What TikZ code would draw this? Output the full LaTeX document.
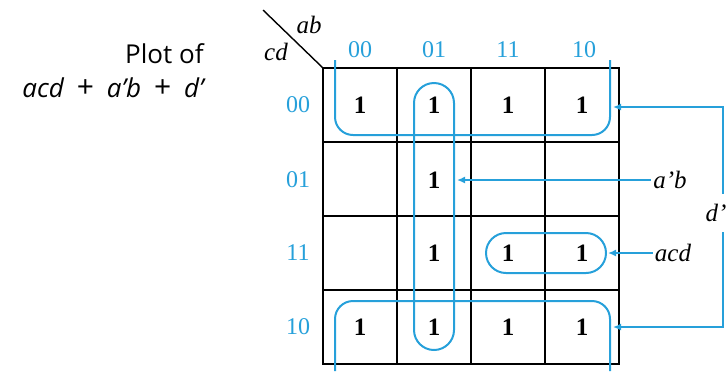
\documentclass[tikz,border=0pt]{standalone}
\usepackage{fontspec}
\setmainfont{Liberation Serif}
\newfontfamily\plotfont{Open Sans}
\usetikzlibrary{arrows.meta}
\definecolor{kblue}{RGB}{38,160,218}
\newcommand{\bigplus}{\hspace{0.5em}{\upshape\fontsize{15}{15}\selectfont+}\hspace{0.5em}}

\begin{document}
\begin{tikzpicture}[x=0.5pt,y=-0.5pt]
\tikzstyle{one}=[font=\fontsize{12.5}{14}\selectfont\bfseries]
\tikzstyle{code}=[text=kblue,font=\fontsize{12}{14}\selectfont]
\tikzstyle{var}=[font=\fontsize{12.5}{14}\selectfont\itshape,inner sep=1pt]
\tikzstyle{plot}=[font=\plotfont\fontsize{13}{15}\selectfont,anchor=base east,inner sep=0pt]
\tikzstyle{loopy}=[draw=kblue,line width=1pt]
\tikzstyle{pointer}=[kblue,line width=0.9pt,-{Latex[length=4pt,width=3.5pt]}]
\useasboundingbox (0,0) rectangle (728,371);
\node [plot] (title) at (204,63) {Plot of};
\node [plot] (expr) at (204,97) {\itshape acd\bigplus a’b\bigplus d’};
\draw [line width=0.7pt] (323,68) rectangle (619,364);
\draw [line width=0.7pt] (397,68) -- (397,364) (471,68) -- (471,364) (545,68) -- (545,364);
\draw [line width=0.7pt] (323,142) -- (619,142) (323,290) -- (619,290);
\draw [line width=1.3pt] (323,216) -- (619,216);
\draw [line width=0.7pt] (263,10) -- (323,68);
\node [var] (ab) at (309,25) {ab};
\node [var] (cd) at (276,52) {cd};
\node [code] (col00) at (360,50) {00};
\node [code] (col01) at (434,50) {01};
\node [code] (col11) at (508,50) {11};
\node [code] (col10) at (584,50) {10};
\node [code] (row00) at (298,105) {00};
\node [code] (row01) at (298,180) {01};
\node [code] (row11) at (298,253) {11};
\node [code] (row10) at (298,327) {10};
\node [one] (m0) at (360,105) {1};
\node [one] (m4) at (434,105) {1};
\node [one] (m12) at (508,105) {1};
\node [one] (m8) at (582,105) {1};
\node [one] (m5) at (434,180) {1};
\node [one] (m7) at (434,253) {1};
\node [one] (m15) at (508,253) {1};
\node [one] (m11) at (582,253) {1};
\node [one] (m2) at (360,327) {1};
\node [one] (m6) at (434,327) {1};
\node [one] (m14) at (508,327) {1};
\node [one] (m10) at (582,327) {1};
\draw [loopy,rounded corners=9pt] (335,60) -- (335,135) -- (610,135) -- (610,60);
\draw [loopy,rounded corners=9pt] (335,371) -- (335,301) -- (610,301) -- (610,371);
\draw [loopy,rounded corners=10pt] (414,83) rectangle (454,350);
\draw [loopy,rounded corners=10pt] (486,233) rectangle (606,273);
\node [var] (aprimeb) at (670,180) {a’b};
\node [var] (acd) at (673,253) {acd};
\node [var,inner sep=0pt,minimum height=19pt] (dprime) at (716,213) {d’};
\coordinate (dline) at (723,213);
\coordinate (abtip) at (457,180);
\coordinate (acdtip) at (608,253);
\coordinate (dtop) at (613,107);
\coordinate (dbot) at (613,327);
\draw [pointer] (aprimeb.west) -- (abtip);
\draw [pointer] (acd.west) -- (acdtip);
\draw [pointer] (dprime.north -| dline) |- (dtop);
\draw [pointer] (dprime.south -| dline) |- (dbot);
\end{tikzpicture}
\end{document}
